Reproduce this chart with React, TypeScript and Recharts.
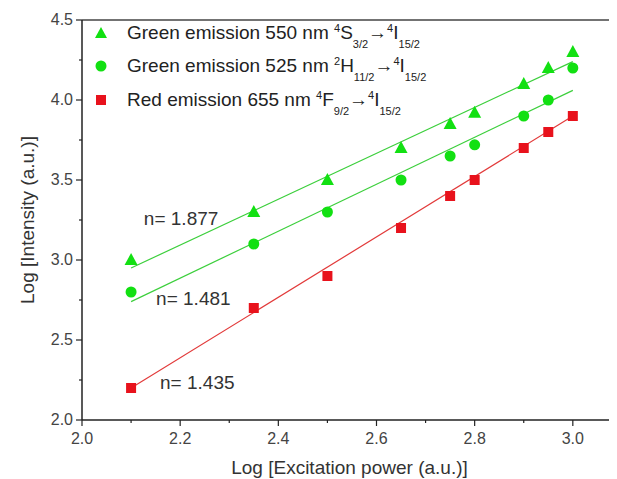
import {
  ComposedChart, Scatter, Line, XAxis, YAxis, Legend, ReferenceLine, ReferenceDot,
} from 'recharts'

// excitation power (log) at which each spectrum was taken
const powerX = [2.1, 2.35, 2.5, 2.65, 2.75, 2.8, 2.9, 2.95, 3.0]
const green550 = [3.0, 3.3, 3.5, 3.7, 3.85, 3.92, 4.1, 4.2, 4.3]
const green525 = [2.8, 3.1, 3.3, 3.5, 3.65, 3.72, 3.9, 4.0, 4.2]
const red655 = [2.2, 2.7, 2.9, 3.2, 3.4, 3.5, 3.7, 3.8, 3.9]

// linear fit end points
const fitX = [2.1, 3.0]
const fit550 = [2.95, 4.24]
const fit525 = [2.74, 4.06]
const fit655 = [2.2, 3.9]

const xTicks = [2.0, 2.1, 2.2, 2.3, 2.4, 2.5, 2.6, 2.7, 2.8, 2.9, 3.0]
const yTicks = [2.0, 2.25, 2.5, 2.75, 3.0, 3.25, 3.5, 3.75, 4.0, 4.25, 4.5]

const slopes = [
  { x: 2.126, y: 3.2625, text: 'n= 1.877' },
  { x: 2.151, y: 2.7625, text: 'n= 1.481' },
  { x: 2.159, y: 2.2375, text: 'n= 1.435' },
]

const GREEN = '#12e012'
const RED = '#e8121c'
const FONT = '"Liberation Sans", Arial, sans-serif'

const pts = (ys: number[]) => powerX.map((x, i) => ({ x, y: ys[i] }))
const fit = (ys: number[]) => fitX.map((x, i) => ({ x, y: ys[i] }))

const triangle = (p: any) => (
  <polygon points={`${p.cx},${p.cy - 7} ${p.cx - 6.5},${p.cy + 5} ${p.cx + 6.5},${p.cy + 5}`} fill={GREEN} />
)
const circle = (p: any) => <circle cx={p.cx} cy={p.cy} r={5.5} fill={GREEN} />
const square = (p: any) => <rect x={p.cx - 5} y={p.cy - 5} width={10} height={10} fill={RED} />

const XTick = ({ x, y, payload }: any) => {
  const major = Math.round(payload.value * 10) % 2 === 0
  return (
    <g>
      <line x1={x} x2={x} y1={y} y2={y + (major ? 6 : 3)} stroke="#222" strokeWidth={1.2} />
      {major && (
        <text x={x} y={y + 24} textAnchor="middle" fontSize={16} fill="#444" fontFamily={FONT}>
          {payload.value.toFixed(1)}
        </text>
      )}
    </g>
  )
}

const YTick = ({ x, y, payload }: any) => {
  const major = Number.isInteger(payload.value * 2)
  return (
    <g>
      <line x1={x} x2={x - (major ? 6 : 3)} y1={y} y2={y} stroke="#222" strokeWidth={1.2} />
      {major && (
        <text x={x - 9} y={y + 5} textAnchor="end" fontSize={16} fill="#444" fontFamily={FONT}>
          {payload.value.toFixed(1)}
        </text>
      )}
    </g>
  )
}

const sup = { fontSize: 11, verticalAlign: 'super', lineHeight: 0 } as const
const sub = { fontSize: 11, verticalAlign: 'sub', position: 'relative', top: 4, lineHeight: 0 } as const

const legendRows = [
  { icon: <polygon points="6,0 0,11 12,11" fill={GREEN} />, label: <>Green emission 550 nm <span style={sup}>4</span>S<span style={sub}>3/2</span>→<span style={sup}>4</span>I<span style={sub}>15/2</span></> },
  { icon: <circle cx={6} cy={6} r={5.5} fill={GREEN} />, label: <>Green emission 525 nm <span style={sup}>2</span>H<span style={sub}>11/2</span>→<span style={sup}>4</span>I<span style={sub}>15/2</span></> },
  { icon: <rect x={1} y={1} width={10} height={10} fill={RED} />, label: <>Red emission 655 nm <span style={sup}>4</span>F<span style={sub}>9/2</span>→<span style={sup}>4</span>I<span style={sub}>15/2</span></> },
]

const LegendBox = () => (
  <div style={{ fontFamily: FONT, fontSize: 19, color: '#222' }}>
    {legendRows.map((r, i) => (
      <div key={i} style={{ height: 33.5, display: 'flex', alignItems: 'center' }}>
        <svg width={12} height={12} style={{ marginRight: 20 }}>{r.icon}</svg>
        <span style={{ whiteSpace: 'nowrap' }}>{r.label}</span>
      </div>
    ))}
  </div>
)

export default function App() {
  return (
    <ComposedChart width={609} height={471} margin={{ top: 12, right: 0, bottom: 0, left: 0 }}>
      <XAxis
        type="number" dataKey="x" domain={[2, 3.09]} ticks={xTicks} allowDataOverflow
        height={59} tickSize={0} tickMargin={0} tickLine={false} tick={<XTick />}
        axisLine={{ stroke: '#222', strokeWidth: 1.5 }}
        label={{ value: 'Log [Excitation power (a.u.)]', position: 'insideBottom', offset: 5, fontSize: 19, fill: '#333', fontFamily: FONT }}
      />
      <YAxis
        type="number" domain={[2, 4.5]} ticks={yTicks} width={74}
        tickSize={0} tickMargin={0} tickLine={false} tick={<YTick />}
        axisLine={{ stroke: '#222', strokeWidth: 1.5 }}
        label={{ value: 'Log [Intensity (a.u.)]', angle: -90, position: 'insideLeft', offset: 19, fontSize: 19, fill: '#333', fontFamily: FONT, style: { textAnchor: 'middle' } }}
      />
      <ReferenceLine y={4.5} stroke="#444" strokeWidth={1.5} />
      <Legend
        layout="vertical" align="center" verticalAlign="middle" content={<LegendBox />}
        wrapperStyle={{ top: 8, left: 87, width: 'auto', height: 'auto' }}
      />
      <Line data={fit(fit550)} dataKey="y" stroke="#3ccf3c" strokeWidth={1.2} dot={false} isAnimationActive={false} legendType="none" />
      <Line data={fit(fit525)} dataKey="y" stroke="#3ccf3c" strokeWidth={1.2} dot={false} isAnimationActive={false} legendType="none" />
      <Line data={fit(fit655)} dataKey="y" stroke="#e23a3a" strokeWidth={1.2} dot={false} isAnimationActive={false} legendType="none" />
      <Scatter data={pts(green550)} dataKey="y" shape={triangle} isAnimationActive={false} />
      <Scatter data={pts(green525)} dataKey="y" shape={circle} isAnimationActive={false} />
      <Scatter data={pts(red655)} dataKey="y" shape={square} isAnimationActive={false} />
      {slopes.map((s) => (
        <ReferenceDot
          key={s.text} x={s.x} y={s.y} r={0} stroke="none" fill="none"
          label={{ value: s.text, position: 'right', offset: 0, fontSize: 19, fill: '#333', fontFamily: FONT }}
        />
      ))}
    </ComposedChart>
  )
}
